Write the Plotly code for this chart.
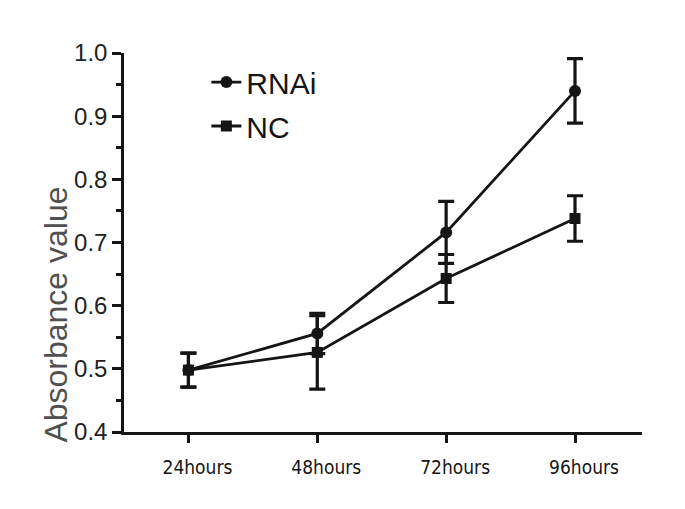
import plotly.graph_objects as go

categories = ["24hours", "48hours", "72hours", "96hours"]
rnai_values = [0.498, 0.556, 0.716, 0.940]
rnai_errors = [0.027, 0.032, 0.049, 0.051]
nc_values = [0.498, 0.526, 0.643, 0.738]
nc_errors = [0.027, 0.058, 0.038, 0.036]
y_ticks = [0.4, 0.5, 0.6, 0.7, 0.8, 0.9, 1.0]

ink = "#151515"

fig = go.Figure()
fig.add_trace(go.Scatter(
    x=categories, y=rnai_values, name="RNAi", mode="lines+markers",
    line=dict(color=ink, width=2.8),
    marker=dict(symbol="circle", size=12, color=ink),
    error_y=dict(type="data", array=rnai_errors, visible=True, color=ink, thickness=3.2, width=8),
    legend="legend",
))
fig.add_trace(go.Scatter(
    x=categories, y=nc_values, name="NC", mode="lines+markers",
    line=dict(color=ink, width=2.8),
    marker=dict(symbol="square", size=11, color=ink),
    error_y=dict(type="data", array=nc_errors, visible=True, color=ink, thickness=3.2, width=8),
    legend="legend2",
))

fig.update_layout(
    width=685, height=509,
    margin=dict(l=116, r=51, t=45, b=85),
    paper_bgcolor="white", plot_bgcolor="white",
    font=dict(family="Arial, Liberation Sans, sans-serif", color=ink),
    showlegend=True,
    legend=dict(x=0.159, y=0.992, xanchor="left", yanchor="top",
                font=dict(size=30, color=ink), bgcolor="rgba(0,0,0,0)"),
    legend2=dict(x=0.159, y=0.876, xanchor="left", yanchor="top",
                 font=dict(size=30, color=ink), bgcolor="rgba(0,0,0,0)"),
    xaxis=dict(
        type="category", range=[-0.5, 3.52], showgrid=False, zeroline=False,
        showline=True, linecolor=ink, linewidth=2.5,
        ticks="outside", ticklen=8, tickwidth=2.5, tickcolor=ink,
        tickfont=dict(family="Liberation Sans Narrow, Arial Narrow, DejaVu Sans Condensed, sans-serif",
                      size=19, color=ink),
        ticklabelshift=9, ticklabelstandoff=8,
    ),
    yaxis=dict(
        range=[0.4, 1.0], tickvals=y_ticks, tickformat=".1f",
        showgrid=False, zeroline=False,
        showline=True, linecolor=ink, linewidth=2.5,
        ticks="outside", ticklen=9, tickwidth=2.5, tickcolor=ink,
        tickfont=dict(size=24, color="#222"),
        minor=dict(dtick=0.05, tick0=0.4, ticks="outside", ticklen=5, tickwidth=2.5, tickcolor=ink),
    ),
    annotations=[dict(
        text="Absorbance value", textangle=-90, showarrow=False,
        xref="paper", yref="paper", x=-0.133, y=0.31,
        xanchor="center", yanchor="middle",
        font=dict(size=32, color="#505050"),
    )],
)

fig.write_html("out.html")
